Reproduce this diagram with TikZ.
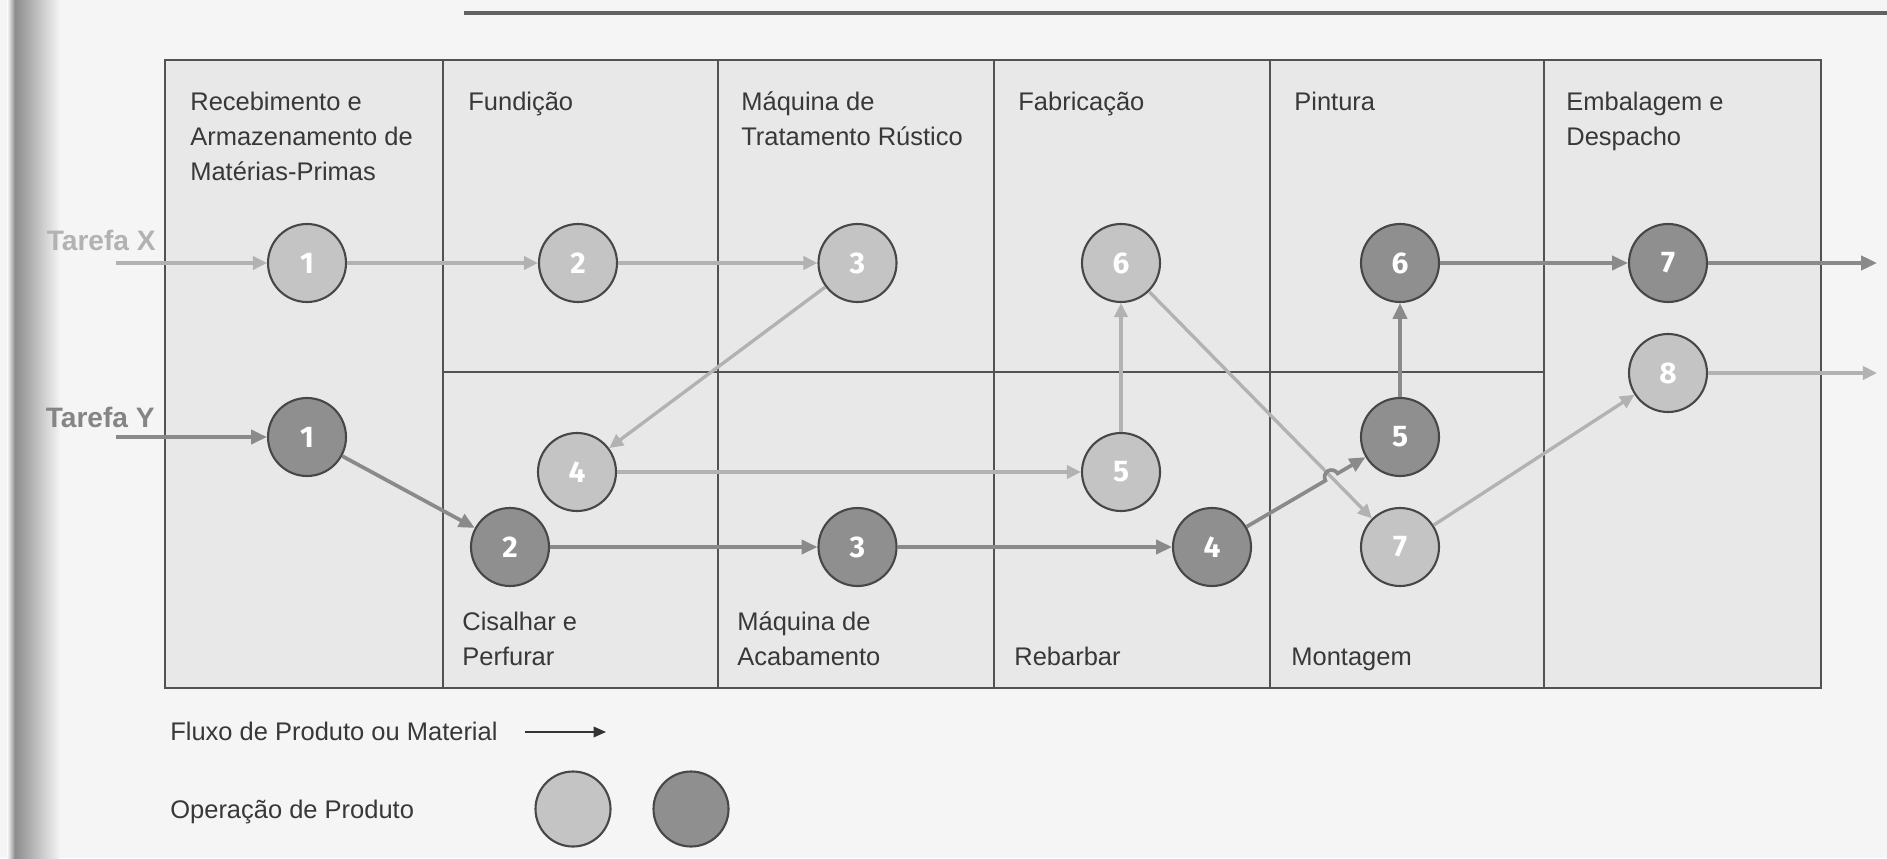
\documentclass[tikz,border=0pt]{standalone}
\usepackage{fontspec}
\setmainfont{Liberation Sans}
\newfontfamily\numfont{Fira Sans}
\usepackage{tikz}
\usetikzlibrary{arrows.meta,calc}
\tikzset{
	opx/.style={circle, draw=black!72, line width=1.2pt, fill=black!23, minimum size=1.56cm, inner sep=0pt, text=white, font=\numfont\bfseries\fontsize{17}{17}\selectfont},
	opy/.style={opx, fill=black!44},
	flowx/.style={draw=black!30, line width=1.9pt, -{Triangle[length=8pt,width=7.5pt]}},
	flowy/.style={draw=black!46, line width=2.1pt, -{Triangle[length=9pt,width=8pt]}},
	area/.style={anchor=base west, align=left, inner sep=0pt, text=black!78, font=\fontsize{14.5}{19.9}\selectfont},
	grid/.style={draw=black!68, line width=1.1pt},
}

\begin{document}
\begin{tikzpicture}
			%%%%% START %%%%%
			\useasboundingbox (0, 0) rectangle (37.74, 17.16);
			\fill[black!4] (0, 0) rectangle (37.74, 17.16);
			\shade[left color=black!4, right color=black!45] (0.15, 0) rectangle (0.3, 17.16);
			\shade[left color=black!45, right color=black!4] (0.3, 0) rectangle (1.2, 17.16);
			\draw[black!62, line width=1.8pt] (9.28, 16.9) -- (37.74, 16.9);
			
			\draw[grid, fill=black!9] (3.3, 3.4) rectangle (36.42, 15.96);
			\foreach \x in {8.86, 14.36, 19.88, 25.4, 30.88}
				\draw[grid] (\x, 3.4) -- (\x, 15.96);
			\draw[grid] (8.86, 9.72) -- (30.88, 9.72);
			
			% base = last line
			\node[area] at (3.8, 13.56) {Recebimento e\\Armazenamento de\\Matérias-Primas};
			\node[area] at (9.36, 14.96) {Fundição};
			\node[area] at (14.82, 14.26) {Máquina de\\Tratamento Rústico};
			\node[area] at (20.36, 14.96) {Fabricação};
			\node[area] at (25.88, 14.96) {Pintura};
			\node[area] at (31.32, 14.26) {Embalagem e\\Despacho};
			
			\node[area] at (9.24, 3.86) {Cisalhar e\\Perfurar};
			\node[area] at (14.74, 3.86) {Máquina de\\Acabamento};
			\node[area] at (20.28, 3.86) {Rebarbar};
			\node[area] at (25.82, 3.86) {Montagem};
			
			\node[anchor=east, inner sep=0pt, text=black!30, font=\bfseries\fontsize{16}{16}\selectfont] (tx) at (3.12, 12.36) {Tarefa X};
			\node[anchor=east, inner sep=0pt, text=black!48, font=\bfseries\fontsize{16}{16}\selectfont] (ty) at (3.1, 8.82) {Tarefa Y};
			
			% tarefa X
			\node[opx] (x1) at (6.14, 11.9) {1};
			\node[opx] (x2) at (11.56, 11.9) {2};
			\node[opx] (x3) at (17.15, 11.9) {3};
			\node[opx] (x4) at (11.54, 7.72) {4};
			\node[opx] (x5) at (22.42, 7.72) {5};
			\node[opx] (x6) at (22.42, 11.9) {6};
			\node[opx] (x7) at (28, 6.22) {7};
			\node[opx] (x8) at (33.36, 9.7) {8};
			
			% tarefa Y
			\node[opy] (y1) at (6.14, 8.42) {1};
			\node[opy] (y2) at (10.2, 6.22) {2};
			\node[opy] (y3) at (17.15, 6.22) {3};
			\node[opy] (y4) at (24.24, 6.22) {4};
			\node[opy] (y5) at (28, 8.42) {5};
			\node[opy] (y6) at (28, 11.9) {6};
			\node[opy] (y7) at (33.36, 11.9) {7};
			
			\coordinate (inx) at (2.32, 11.9);
			\coordinate (iny) at (2.32, 8.42);
			\coordinate (outx) at (37.54, 9.7);
			\coordinate (outy) at (37.54, 11.9);
			\coordinate (hop) at (26.63, 7.62);
			
			\draw[flowx] (inx) -- (x1);
			\draw[flowx] (x1) -- (x2);
			\draw[flowx] (x2) -- (x3);
			\draw[flowx] (x3) -- (x4);
			\draw[flowx] (x4) -- (x5);
			\draw[flowx] (x5) -- (x6);
			\draw[flowx] (x6) -- (x7);
			\draw[flowx] (x7) -- (x8);
			\draw[flowx] (x8) -- (outx);
			
			\draw[flowy] (iny) -- (y1);
			\draw[flowy] (y1) -- (y2);
			\draw[flowy] (y2) -- (y3);
			\draw[flowy] (y3) -- (y4);
			\draw[flowy] (y4) -- ($(hop)+(210.33:0.14)$) arc[start angle=210.33, end angle=30.33, radius=0.14] -- (y5);
			\draw[flowy] (y5) -- (y6);
			\draw[flowy] (y6) -- (y7);
			\draw[flowy] (y7) -- (outy);
			
			% legenda
			\node[area] (lf) at (3.4, 2.36) {Fluxo de Produto ou Material};
			\node[area] (lo) at (3.4, 0.8) {Operação de Produto};
			\coordinate (la) at (10.5, 2.52);
			\coordinate (lb) at (12.12, 2.52);
			\draw[black!80, line width=0.9pt, -{Triangle[length=7pt,width=6pt]}] (la) -- (lb);
			\node[opx, minimum size=1.5cm] (lx) at (11.46, 0.98) {};
			\node[opy, minimum size=1.5cm] (ly) at (13.82, 0.98) {};
			%%%%% END %%%%%
\end{tikzpicture}
\end{document}
